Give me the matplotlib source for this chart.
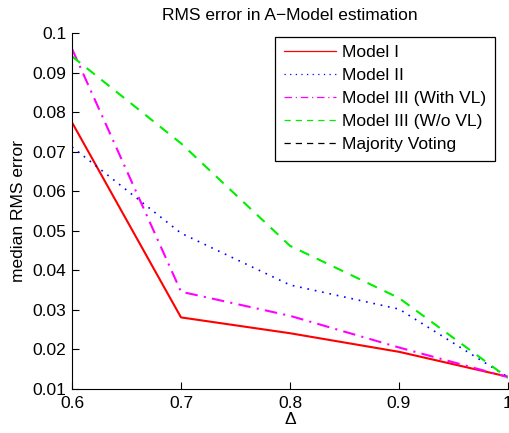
import matplotlib
matplotlib.use("Agg")
import matplotlib.pyplot as plt

delta = [0.6, 0.7, 0.8, 0.9, 1.0]
model_1 = [0.0774, 0.0281, 0.0241, 0.0194, 0.0131]
model_2 = [0.0712, 0.0494, 0.0363, 0.0302, 0.0130]
model_3_vl = [0.0960, 0.0346, 0.0285, 0.0205, 0.0130]
model_3_novl = [0.0941, 0.0721, 0.0462, 0.0330, 0.0128]
majority = []  # not visible inside the plotted range

labels = ["Model I", "Model II", "Model III (With VL)", "Model III (W/o VL)", "Majority Voting"]
xticks = [0.6, 0.7, 0.8, 0.9, 1.0]
xticklabels = ["0.6", "0.7", "0.8", "0.9", "1"]
yticks = [0.01, 0.02, 0.03, 0.04, 0.05, 0.06, 0.07, 0.08, 0.09, 0.1]
yticklabels = ["0.01", "0.02", "0.03", "0.04", "0.05", "0.06", "0.07", "0.08", "0.09", "0.1"]

plt.rcParams["font.family"] = ["Liberation Sans", "DejaVu Sans"]
FS = 12.5

fig = plt.figure(figsize=(5.10, 4.33), dpi=100)
ax = fig.add_axes([72/510, 44/433, 436/510, 356/433])

ax.plot(delta, model_1, color="#ff0000", lw=1.5, ls="-", label=labels[0])
ax.plot(delta, model_2, color="#0000ff", lw=1.2, ls=(0, (1, 3.5)), label=labels[1])
ax.plot(delta, model_3_vl, color="#ff00ff", lw=1.5, ls=(0, (6, 3, 1, 3)), label=labels[2])
ax.plot(delta, model_3_novl, color="#00ee00", lw=1.5, ls=(0, (5, 4)), label=labels[3])
ax.plot(majority, majority, color="black", lw=1.0, ls=(0, (5, 4)), label=labels[4])

ax.set_xlim(0.6, 1.0)
ax.set_ylim(0.01, 0.1)
ax.set_xticks(xticks)
ax.set_xticklabels(xticklabels)
ax.set_yticks(yticks)
ax.set_yticklabels(yticklabels)
ax.tick_params(direction="in", length=5, width=0.8, labelsize=FS)
ax.tick_params(axis="x", pad=5)
ax.tick_params(axis="y", pad=4)
ax.spines["top"].set_visible(False)
ax.spines["right"].set_visible(False)
for s in ["left", "bottom"]:
    ax.spines[s].set_linewidth(0.8)

ax.set_xlabel("Δ", fontsize=FS, labelpad=0.5)
ax.set_ylabel("median RMS error", fontsize=FS, labelpad=5)
ax.set_title("RMS error in A\u2212Model estimation", fontsize=FS, pad=9)

leg = ax.legend(loc="upper left", bbox_to_anchor=(0.466, 0.99), fontsize=FS,
                frameon=True, fancybox=False, edgecolor="black", framealpha=1,
                handlelength=3.0, handletextpad=0.35, labelspacing=0.45,
                borderpad=0.5, borderaxespad=0)
leg.get_frame().set_linewidth(0.9)
for line in leg.get_lines():
    line.set_linewidth(0.9)

fig.savefig("out.png", dpi=100)
